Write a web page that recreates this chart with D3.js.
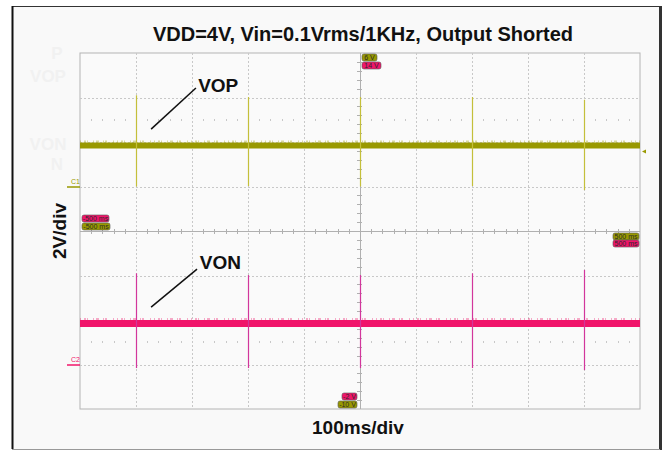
<!DOCTYPE html>
<html><head><meta charset="utf-8">
<script src="https://cdn.jsdelivr.net/npm/d3@7"></script>
<style>body{margin:0;background:#fff}svg{display:block}</style>
</head><body><svg id="c" width="663" height="450"></svg>
<script>
// ---- data ----
const title = "VDD=4V, Vin=0.1Vrms/1KHz, Output Shorted";
const xLabel = "100ms/div";
const yLabel = "2V/div";
const timeDomain = [-500, 500];      // ms, 10 div x 100 ms
const voltDomain = [-8, 8];          // screen volts, 8 div x 2 V
const gridTimes = [-400, -300, -200, -100, 100, 200, 300, 400];
const gridVolts = [-6, -4, -2, 2, 4, 6];
const spikeTimes = [-400, -200, 0, 200, 400];
const ch1Offset = 2, ch2Offset = -6;   // ground marker positions (screen volts)
const vopLevel = 1.84;
const vopSpikeHigh = [4.1, 4.02, 4.02, 4.02, 3.9];
const vopSpikeLow  = [0.0, 0.02, 0.0, 0.02, -0.16];
const vonLevel = 1.84;
const vonSpikeHigh = [4.1, 4.02, 4.02, 4.1, 4.25];
const vonSpikeLow  = [-0.16, -0.16, -0.16, -0.16, -0.25];
const topBadges = ["6 V", "14 V"];
const bottomBadges = ["-2 V", "-10 V"];
const leftBadges = ["-500 ms", "-500 ms"];
const rightBadges = ["500 ms", "500 ms"];
const traceNames = ["VOP", "VON"];

// ---- drawing ----
const svg = d3.select("#c");
const W = 663, H = 450;
const M = {l: 80, t: 53, r: 640, b: 409};
const x = d3.scaleLinear().domain(timeDomain).range([M.l, M.r]);
const y = d3.scaleLinear().domain(voltDomain).range([M.b, M.t]);
const cOlive = "#999900", cPink = "#f0146a";
const font = "Liberation Sans, Arial, sans-serif";

svg.append("rect").attr("width", W).attr("height", H).attr("fill", "#fff");
svg.append("rect").attr("x", 12).attr("y", 6).attr("width", 648).attr("height", 443).attr("fill", "#f9f9f9");
svg.append("line").attr("x1", 12).attr("x2", 660).attr("y1", 6.5).attr("y2", 6.5).attr("stroke", "#333").attr("stroke-width", 1);
svg.append("line").attr("x1", 12.5).attr("x2", 12.5).attr("y1", 6).attr("y2", 449).attr("stroke", "#111").attr("stroke-width", 2);
svg.append("line").attr("x1", 660.5).attr("x2", 660.5).attr("y1", 6).attr("y2", 450).attr("stroke", "#333").attr("stroke-width", 3);
svg.append("line").attr("x1", 12).attr("x2", 660).attr("y1", 449.5).attr("y2", 449.5).attr("stroke", "#999").attr("stroke-width", 1);

// faint watermark text
const wm = svg.append("g").attr("fill", "#f1f1f1").attr("font-family", font).attr("font-weight", "bold").attr("font-size", 17);
wm.append("text").attr("x", 57).attr("y", 59).attr("text-anchor", "middle").text("P");
wm.append("text").attr("x", 48).attr("y", 82).attr("text-anchor", "middle").text("VOP");
wm.append("text").attr("x", 48).attr("y", 150).attr("text-anchor", "middle").text("VON");
wm.append("text").attr("x", 57).attr("y", 170).attr("text-anchor", "middle").text("N");

// title & axis labels
svg.append("text").attr("x", 363).attr("y", 41).attr("text-anchor", "middle")
  .attr("font-family", font).attr("font-weight", "bold").attr("font-size", 20).attr("fill", "#111").text(title);
svg.append("text").attr("x", 358).attr("y", 434).attr("text-anchor", "middle")
  .attr("font-family", font).attr("font-weight", "bold").attr("font-size", 19).attr("fill", "#111").text(xLabel);
svg.append("text").attr("transform", "translate(66," + y(0) + ") rotate(-90)").attr("text-anchor", "middle")
  .attr("font-family", font).attr("font-weight", "bold").attr("font-size", 19).attr("fill", "#111").text(yLabel);

// plot area
const g = svg.append("g");
g.append("rect").attr("x", M.l).attr("y", M.t).attr("width", M.r - M.l).attr("height", M.b - M.t)
  .attr("fill", "#fafafa").attr("stroke", "#b4b4b4").attr("stroke-width", 1);

// dotted grid
g.selectAll(".gx").data(gridTimes).join("line")
  .attr("x1", d => Math.round(x(d)) + 0.5).attr("x2", d => Math.round(x(d)) + 0.5)
  .attr("y1", M.t).attr("y2", M.b).attr("stroke", "#c8c8c8").attr("stroke-dasharray", "2,2");
g.selectAll(".gy").data(gridVolts).join("line")
  .attr("y1", d => Math.round(y(d)) + 0.5).attr("y2", d => Math.round(y(d)) + 0.5)
  .attr("x1", M.l).attr("x2", M.r).attr("stroke", "#c8c8c8").attr("stroke-dasharray", "2,2");

// minor dotted rows at +/-2.5 div
const minorT = d3.range(-500, 501, 20).filter(t => t % 100 !== 0);
[5, -5].forEach(v => {
  g.selectAll(null).data(minorT).join("rect")
    .attr("x", d => Math.round(x(d))).attr("y", Math.round(y(v)) - 1).attr("width", 1).attr("height", 2).attr("fill", "#c8c8c8");
});

// center axes with ticks
g.append("line").attr("x1", M.l).attr("x2", M.r).attr("y1", Math.round(y(0)) + 0.5).attr("y2", Math.round(y(0)) + 0.5).attr("stroke", "#b0b0b0");
g.append("line").attr("y1", M.t).attr("y2", M.b).attr("x1", Math.round(x(0)) + 0.5).attr("x2", Math.round(x(0)) + 0.5).attr("stroke", "#b0b0b0");
g.selectAll(null).data(minorT).join("line")
  .attr("x1", d => Math.round(x(d)) + 0.5).attr("x2", d => Math.round(x(d)) + 0.5)
  .attr("y1", y(0) - 2).attr("y2", y(0) + 3).attr("stroke", "#b0b0b0");
const minorV = d3.range(-8, 8.01, 0.4).filter(v => Math.abs(v % 2) > 0.01 && Math.abs(Math.abs(v % 2) - 2) > 0.01);
g.selectAll(null).data(minorV).join("line")
  .attr("y1", d => Math.round(y(d)) + 0.5).attr("y2", d => Math.round(y(d)) + 0.5)
  .attr("x1", x(0) - 3).attr("x2", x(0) + 2).attr("stroke", "#b0b0b0");

// traces
function trace(level, offset, highs, lows, bandColor, spikeColor, bandW) {
  const yy = v => y(v + offset);
  // fuzz above the band
  g.append("line").attr("x1", x(timeDomain[0])).attr("x2", x(timeDomain[1]))
    .attr("y1", yy(level) - bandW / 2 - 1).attr("y2", yy(level) - bandW / 2 - 1)
    .attr("stroke", bandColor).attr("stroke-width", 2)
    .attr("stroke-dasharray", "1,3,2,1,1,5,1,2,3,4,1,1,2,6,1,3").attr("opacity", 0.35);
  g.append("line").attr("x1", x(timeDomain[0])).attr("x2", x(timeDomain[1]))
    .attr("y1", yy(level)).attr("y2", yy(level)).attr("stroke", bandColor).attr("stroke-width", bandW);
  g.selectAll(null).data(spikeTimes).join("line")
    .attr("x1", d => Math.round(x(d)) + 0.5).attr("x2", d => Math.round(x(d)) + 0.5)
    .attr("y1", (d, i) => yy(highs[i])).attr("y2", (d, i) => yy(lows[i]))
    .attr("stroke", spikeColor).attr("stroke-width", 1.2);
}
trace(vopLevel, ch1Offset, vopSpikeHigh, vopSpikeLow, cOlive, "#c4bf3a", 6);
trace(vonLevel, ch2Offset, vonSpikeHigh, vonSpikeLow, cPink, "#d2369c", 7);

// ground markers
[[ch1Offset, "C1", cOlive], [ch2Offset, "C2", cPink]].forEach(([o, t, c]) => {
  g.append("line").attr("x1", M.l - 13).attr("x2", M.l).attr("y1", y(o) + 0.5).attr("y2", y(o) + 0.5).attr("stroke", c).attr("stroke-width", 1.5);
  g.append("text").attr("x", M.l - 9).attr("y", y(o) - 3).attr("font-family", font).attr("font-size", 7).attr("fill", c).text(t);
});
// right trigger marker
g.append("path").attr("d", `M${M.r + 6},${y(vopLevel + ch1Offset) + 4} l-4,2 l4,2 z`).attr("fill", cOlive);

// badges
function badge(x0, y0, w, txt, color) {
  g.append("rect").attr("x", x0).attr("y", y0).attr("width", w).attr("height", 7).attr("rx", 2)
    .attr("fill", color).attr("stroke", "#555").attr("stroke-width", 0.6);
  g.append("text").attr("x", x0 + w / 2).attr("y", y0 + 6).attr("text-anchor", "middle")
    .attr("font-family", font).attr("font-size", 7).attr("fill", "#2a2a2a").text(txt);
}
badge(x(0) + 2, M.t + 1, 15, topBadges[0], cOlive);
badge(x(0) + 2, M.t + 9, 19, topBadges[1], cPink);
badge(M.l + 2, y(0) - 16, 27, leftBadges[0], cPink);
badge(M.l + 2, y(0) - 8, 28, leftBadges[1], cOlive);
badge(M.r - 27, y(0) + 2, 26, rightBadges[0], cOlive);
badge(M.r - 27, y(0) + 9, 26, rightBadges[1], cPink);
badge(x(0) - 18, M.b - 16, 15, bottomBadges[0], cPink);
badge(x(0) - 22, M.b - 8, 19, bottomBadges[1], cOlive);

// annotations
const ann = [
  {name: traceNames[0], off: ch1Offset, tx: -289, tv: 4.25, l1: [-293, 4.43], l2: [-373, 2.58]},
  {name: traceNames[1], off: ch2Offset, tx: -286, tv: 4.29, l1: [-291, 4.29], l2: [-373, 2.58]}
];
ann.forEach(a => {
  g.append("line").attr("x1", x(a.l1[0])).attr("y1", y(a.l1[1] + a.off)).attr("x2", x(a.l2[0])).attr("y2", y(a.l2[1] + a.off))
    .attr("stroke", "#111").attr("stroke-width", 1.5);
  g.append("text").attr("x", x(a.tx)).attr("y", y(a.tv + a.off)).attr("font-family", font).attr("font-weight", "bold")
    .attr("font-size", 19).attr("fill", "#111").text(a.name);
});
</script></body></html>
